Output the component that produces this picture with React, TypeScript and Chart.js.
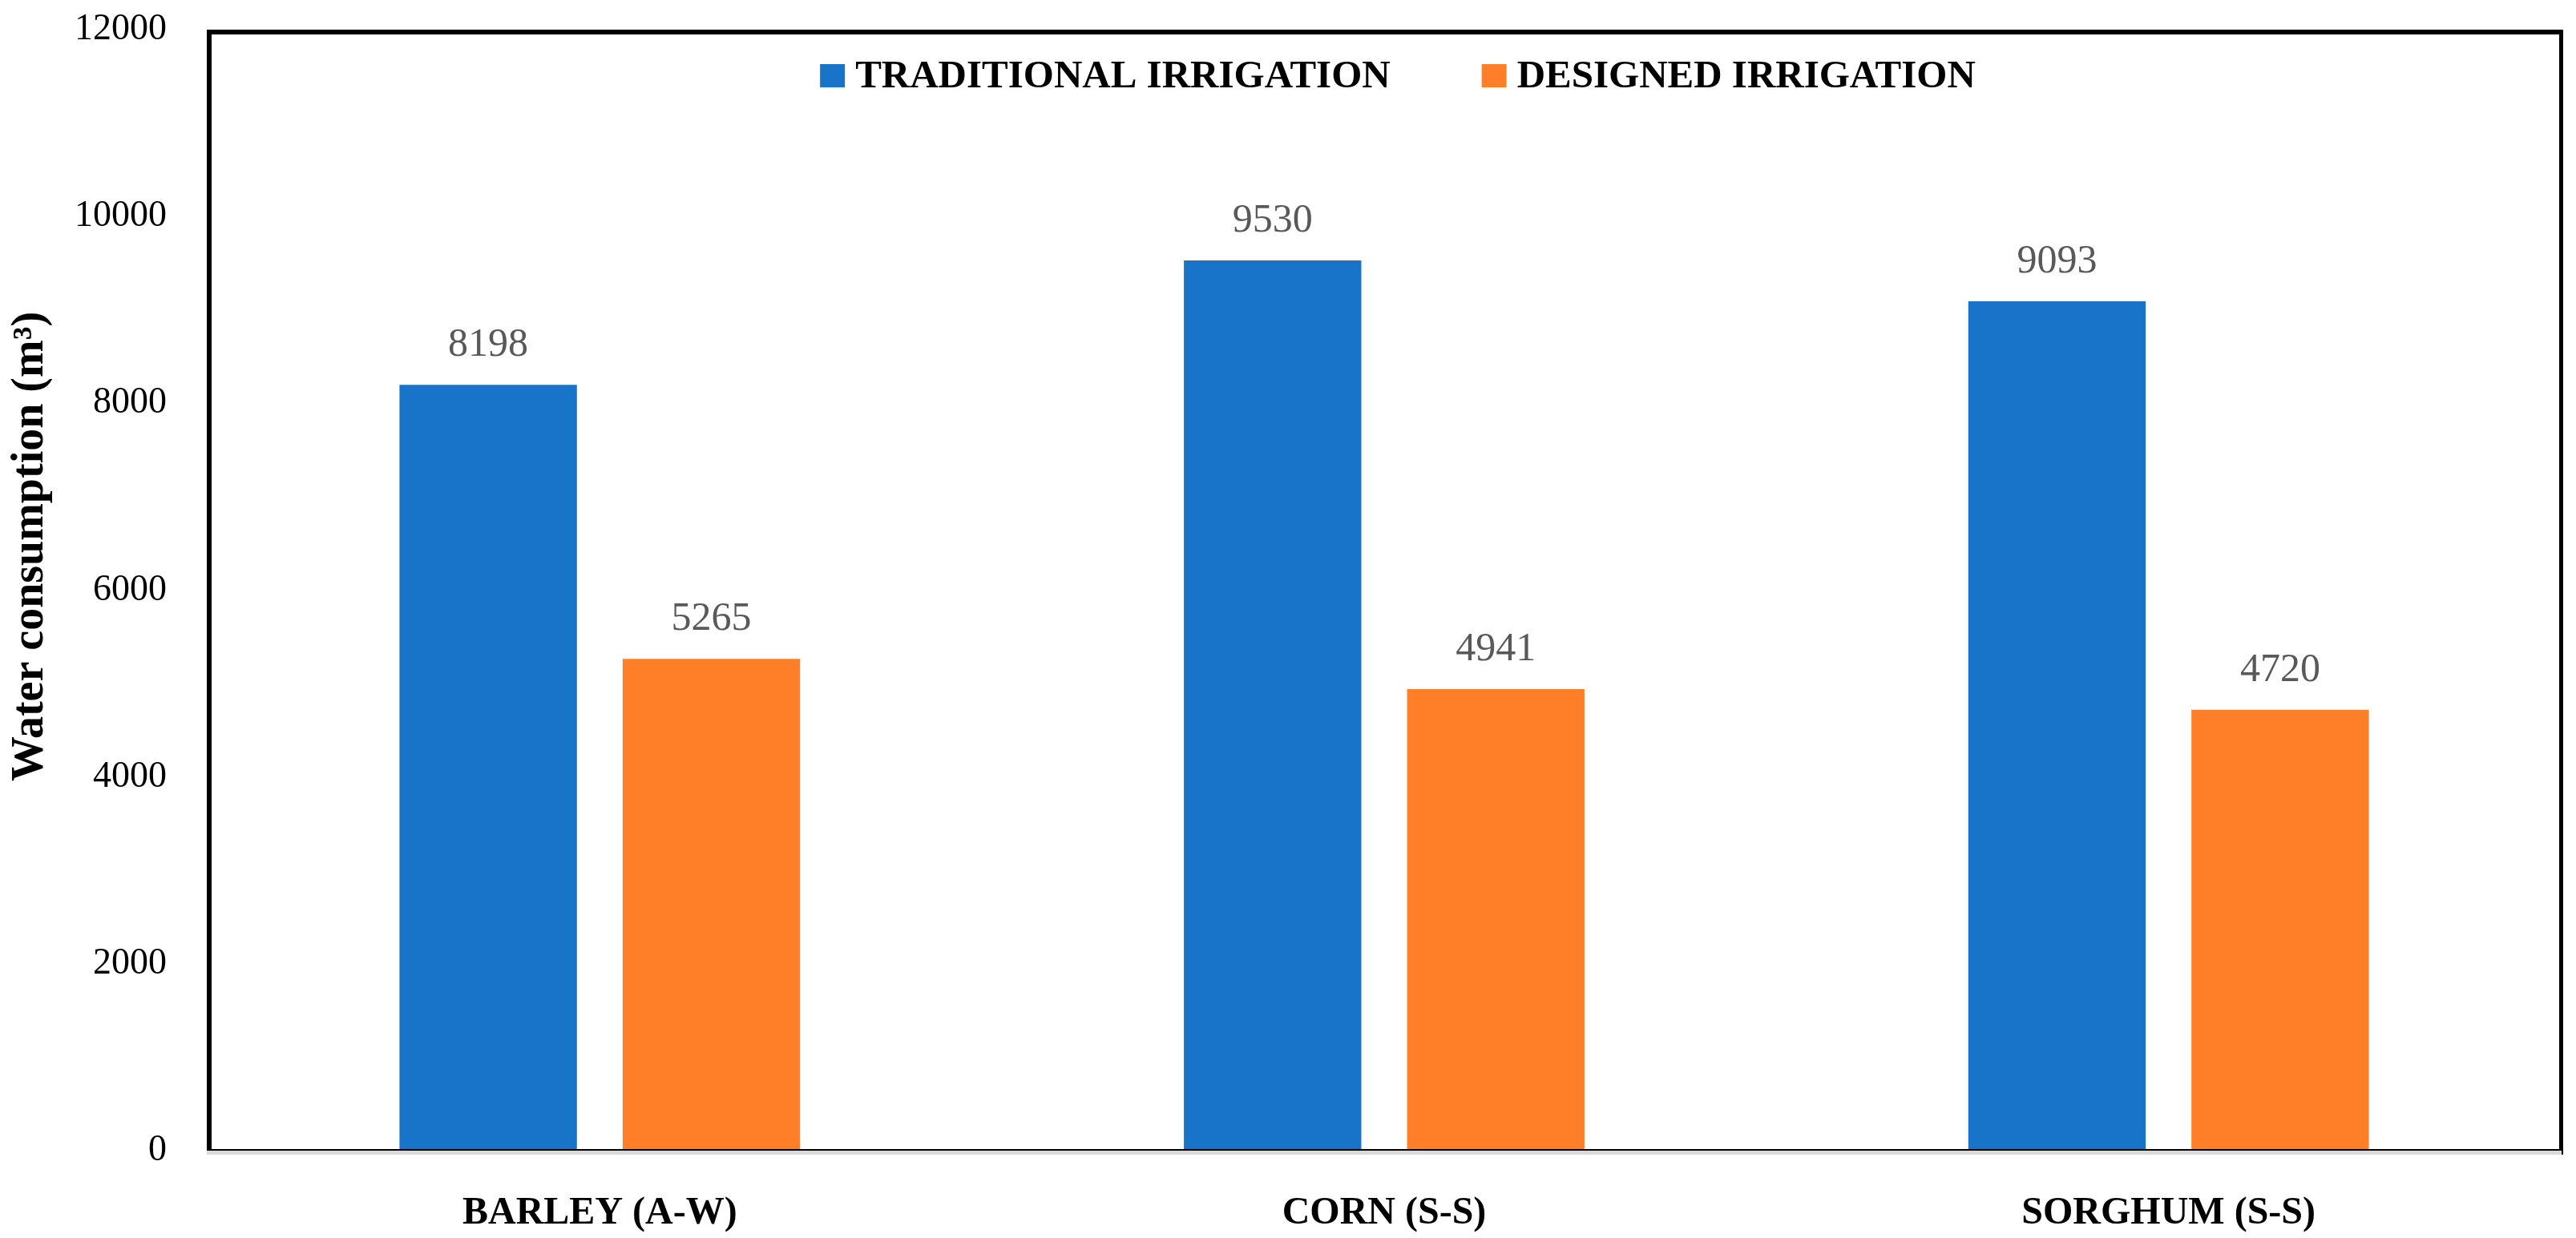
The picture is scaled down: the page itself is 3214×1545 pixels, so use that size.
import React, { useEffect, useRef } from "react";
import { Chart, registerables } from "chart.js";

Chart.register(...registerables);

const categories = ["BARLEY (A-W)", "CORN (S-S)", "SORGHUM (S-S)"];
const traditional = [8198, 9530, 9093];
const designed = [5265, 4941, 4720];
const seriesNames = ["TRADITIONAL IRRIGATION", "DESIGNED IRRIGATION"];
const yTicks = [0, 2000, 4000, 6000, 8000, 10000, 12000];
const yTitle = "Water consumption (m³)";

const BLUE = "#1874c9";
const ORANGE = "#fe7f27";
const FONT = "'Liberation Serif', 'Times New Roman', serif";

const framePlugin = {
  id: "frame",
  afterDatasetsDraw(chart: any) {
    const { ctx, chartArea: ca } = chart;
    ctx.save();
    ctx.fillStyle = "#000";
    const l = ca.left - 1;
    const t = ca.top;
    const r = ca.right + 3;
    const b = ca.bottom;
    ctx.fillRect(l, t, r - l, 6);
    ctx.fillRect(l, t, 6, b - t);
    ctx.fillRect(r - 5, t, 5, b + 5 - t);
    ctx.fillRect(l, b - 2, r - l, 2);
    ctx.fillStyle = "#d9d9d9";
    ctx.fillRect(l, b, r - l - 2, 5);
    ctx.restore();
  },
};

const valueLabelPlugin = {
  id: "valueLabels",
  afterDatasetsDraw(chart: any) {
    const { ctx } = chart;
    ctx.save();
    ctx.font = `50px ${FONT}`;
    ctx.fillStyle = "#595959";
    ctx.textAlign = "center";
    ctx.textBaseline = "alphabetic";
    chart.data.datasets.forEach((ds: any, i: number) => {
      const meta = chart.getDatasetMeta(i);
      meta.data.forEach((bar: any, j: number) => {
        ctx.fillText(String(ds.data[j]), bar.x, bar.y - 36);
      });
    });
    ctx.restore();
  },
};

const yTitlePlugin = {
  id: "yTitle",
  afterDraw(chart: any) {
    const { ctx, chartArea: ca } = chart;
    ctx.save();
    ctx.font = `bold 56px ${FONT}`;
    ctx.fillStyle = "#000";
    ctx.textAlign = "center";
    ctx.textBaseline = "alphabetic";
    const cy = ca.top + (ca.bottom - ca.top) * 0.461;
    ctx.translate(53, cy);
    ctx.rotate(-Math.PI / 2);
    ctx.fillText(yTitle, 0, 0);
    ctx.restore();
  },
};

const legendPlugin = {
  id: "customLegend",
  afterDraw(chart: any) {
    const { ctx, chartArea: ca } = chart;
    ctx.save();
    ctx.font = `bold 49px ${FONT}`;
    ctx.textBaseline = "alphabetic";
    ctx.textAlign = "left";
    const boxW = 31;
    const boxH = 29;
    const gapText = 13;
    const gapItem = 114;
    const items = chart.data.datasets.map((ds: any) => ({
      label: ds.label,
      color: ds.backgroundColor,
      w: ctx.measureText(ds.label).width,
    }));
    let total = 0;
    items.forEach((it: any, i: number) => {
      total += boxW + gapText + it.w + (i < items.length - 1 ? gapItem : 0);
    });
    const cx = (ca.left + ca.right) / 2 + 17;
    let x = cx - total / 2;
    const baseline = ca.top + 72;
    items.forEach((it: any) => {
      ctx.fillStyle = it.color;
      ctx.fillRect(x, baseline - boxH, boxW, boxH);
      x += boxW + gapText;
      ctx.fillStyle = "#000";
      ctx.fillText(it.label, x, baseline);
      x += it.w + gapItem;
    });
    ctx.restore();
  },
};

export default function App() {
  const canvasRef = useRef<HTMLCanvasElement | null>(null);

  useEffect(() => {
    if (!canvasRef.current) return;
    const chart = new Chart(canvasRef.current, {
      type: "bar",
      data: {
        labels: categories,
        datasets: [
          {
            label: seriesNames[0],
            data: traditional,
            backgroundColor: BLUE,
            categoryPercentage: 0.569,
            barPercentage: 0.795,
          },
          {
            label: seriesNames[1],
            data: designed,
            backgroundColor: ORANGE,
            categoryPercentage: 0.569,
            barPercentage: 0.795,
          },
        ],
      },
      options: {
        responsive: false,
        animation: false,
        devicePixelRatio: 1,
        layout: { padding: { top: 37, right: 19, left: 0, bottom: 0 } },
        plugins: {
          legend: { display: false },
          tooltip: { enabled: false },
        },
        scales: {
          x: {
            grid: { display: false },
            border: { display: false },
            ticks: {
              color: "#000",
              padding: 42,
              font: { family: FONT, size: 48, weight: "bold" },
            },
            afterFit(scale: any) {
              scale.height = 109;
              scale.paddingLeft = 0;
              scale.paddingRight = 0;
            },
          },
          y: {
            min: 0,
            max: 12000,
            grid: { display: false },
            border: { display: false },
            afterBuildTicks(scale: any) {
              scale.ticks = yTicks.map((v) => ({ value: v }));
            },
            ticks: {
              color: "#000",
              padding: 43,
              font: { family: FONT, size: 46 },
              callback: (v: any) => String(v),
            },
            title: { display: false },
            afterFit(scale: any) {
              scale.width = 259;
              scale.paddingTop = 0;
              scale.paddingBottom = 0;
            },
          },
        },
      },
      plugins: [framePlugin, valueLabelPlugin, legendPlugin, yTitlePlugin],
    });
    return () => chart.destroy();
  }, []);

  return (
    <div style={{ position: "absolute", left: 0, top: 0, width: 3214, height: 1545, background: "#fff" }}>
      <canvas ref={canvasRef} width={3214} height={1545} />
    </div>
  );
}
